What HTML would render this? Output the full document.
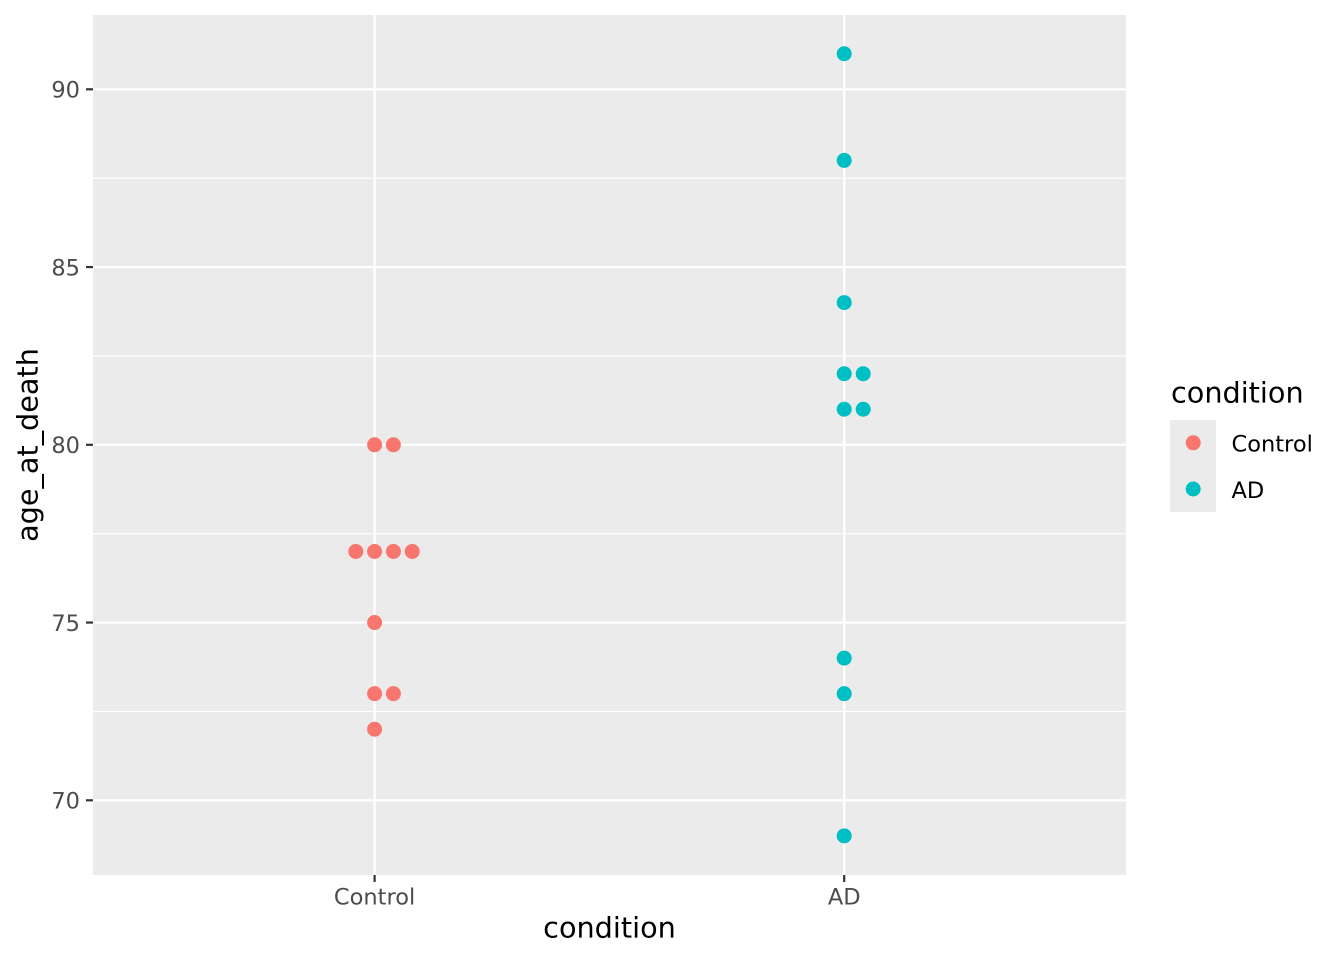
<!DOCTYPE html>
<html>
<head>
<meta charset="utf-8">
<style>
html,body{margin:0;padding:0;background:#fff;}
svg{display:block;}
text{font-family:"DejaVu Sans","Liberation Sans",sans-serif;}
</style>
</head>
<body>
<svg width="1344" height="960" viewBox="0 0 1344 960" xmlns="http://www.w3.org/2000/svg">
  <rect x="0" y="0" width="1344" height="960" fill="#FFFFFF"/>
  <!-- panel -->
  <rect x="93" y="15" width="1033" height="860" fill="#EBEBEB"/>
  <!-- minor gridlines -->
  <g stroke="#FFFFFF" stroke-width="1.1">
    <line x1="93" x2="1126" y1="178.2" y2="178.2"/>
    <line x1="93" x2="1126" y1="355.95" y2="355.95"/>
    <line x1="93" x2="1126" y1="533.7" y2="533.7"/>
    <line x1="93" x2="1126" y1="711.45" y2="711.45"/>
  </g>
  <!-- major gridlines -->
  <g stroke="#FFFFFF" stroke-width="2.2">
    <line x1="93" x2="1126" y1="89.3" y2="89.3"/>
    <line x1="93" x2="1126" y1="267.05" y2="267.05"/>
    <line x1="93" x2="1126" y1="444.8" y2="444.8"/>
    <line x1="93" x2="1126" y1="622.55" y2="622.55"/>
    <line x1="93" x2="1126" y1="800.3" y2="800.3"/>
    <line x1="374.6" x2="374.6" y1="15" y2="875"/>
    <line x1="844.2" x2="844.2" y1="15" y2="875"/>
  </g>
  <!-- points Control -->
  <g fill="#F8766D">
    <circle cx="374.6" cy="444.8" r="7.5"/>
    <circle cx="393.4" cy="444.8" r="7.5"/>
    <circle cx="355.8" cy="551.45" r="7.5"/>
    <circle cx="374.6" cy="551.45" r="7.5"/>
    <circle cx="393.4" cy="551.45" r="7.5"/>
    <circle cx="412.2" cy="551.45" r="7.5"/>
    <circle cx="374.6" cy="622.55" r="7.5"/>
    <circle cx="374.6" cy="693.65" r="7.5"/>
    <circle cx="393.4" cy="693.65" r="7.5"/>
    <circle cx="374.6" cy="729.2" r="7.5"/>
  </g>
  <!-- points AD -->
  <g fill="#00BFC4">
    <circle cx="844.2" cy="53.75" r="7.5"/>
    <circle cx="844.2" cy="160.4" r="7.5"/>
    <circle cx="844.2" cy="302.6" r="7.5"/>
    <circle cx="844.2" cy="373.7" r="7.5"/>
    <circle cx="863.2" cy="373.7" r="7.5"/>
    <circle cx="844.2" cy="409.25" r="7.5"/>
    <circle cx="863.2" cy="409.25" r="7.5"/>
    <circle cx="844.2" cy="658.1" r="7.5"/>
    <circle cx="844.2" cy="693.65" r="7.5"/>
    <circle cx="844.2" cy="835.85" r="7.5"/>
  </g>
  <!-- axis ticks -->
  <g stroke="#333333" stroke-width="2.2">
    <line x1="86" x2="93" y1="89.3" y2="89.3"/>
    <line x1="86" x2="93" y1="267.05" y2="267.05"/>
    <line x1="86" x2="93" y1="444.8" y2="444.8"/>
    <line x1="86" x2="93" y1="622.55" y2="622.55"/>
    <line x1="86" x2="93" y1="800.3" y2="800.3"/>
    <line x1="374.6" x2="374.6" y1="875" y2="882"/>
    <line x1="844.2" x2="844.2" y1="875" y2="882"/>
  </g>
  <!-- y tick labels -->
  <g fill="#4D4D4D" font-size="22.5" text-anchor="end">
    <text x="80" y="97.5">90</text>
    <text x="80" y="275.3">85</text>
    <text x="80" y="453">80</text>
    <text x="80" y="630.8">75</text>
    <text x="80" y="808.5">70</text>
  </g>
  <!-- x tick labels -->
  <g fill="#4D4D4D" font-size="22.5" text-anchor="middle">
    <text x="374.6" y="904.5">Control</text>
    <text x="844.2" y="904.5">AD</text>
  </g>
  <!-- axis titles -->
  <text x="609.5" y="937.5" font-size="28.7" text-anchor="middle" fill="#000000">condition</text>
  <text transform="translate(37.5,445) rotate(-90)" font-size="28.7" text-anchor="middle" fill="#000000">age_at_death</text>
  <!-- legend -->
  <text x="1171" y="402.3" font-size="28.7" fill="#000000">condition</text>
  <rect x="1170" y="420" width="46" height="92" fill="#EBEBEB"/>
  <circle cx="1193.2" cy="442.8" r="7.5" fill="#F8766D"/>
  <circle cx="1193.2" cy="489" r="7.5" fill="#00BFC4"/>
  <text x="1231.5" y="451.6" font-size="22.5" fill="#000000">Control</text>
  <text x="1231.5" y="497.8" font-size="22.5" fill="#000000">AD</text>
</svg>
</body>
</html>
